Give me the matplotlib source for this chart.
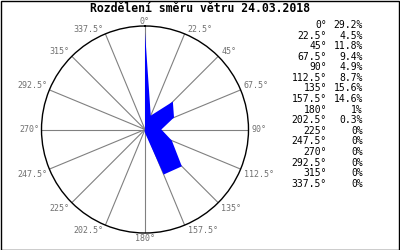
import numpy as np
import matplotlib
matplotlib.use("Agg")
import matplotlib.pyplot as plt

title = "Rozdělení směru větru 24.03.2018"
directions = [0, 22.5, 45, 67.5, 90, 112.5, 135, 157.5, 180, 202.5, 225, 247.5, 270, 292.5, 315, 337.5]
dir_labels = ["0°", "22.5°", "45°", "67.5°", "90°", "112.5°", "135°", "157.5°",
              "180°", "202.5°", "225°", "247.5°", "270°", "292.5°", "315°", "337.5°"]
percent = [29.2, 4.5, 11.8, 9.4, 4.9, 8.7, 15.6, 14.6, 1, 0.3, 0, 0, 0, 0, 0, 0]
percent_labels = ["29.2%", "4.5%", "11.8%", "9.4%", "4.9%", "8.7%", "15.6%", "14.6%",
                  "1%", "0.3%", "0%", "0%", "0%", "0%", "0%", "0%"]
rmax = 31.0

W, H = 400, 250
fig = plt.figure(figsize=(W / 100, H / 100), dpi=100)
fig.patch.set_facecolor("white")

cx, cy, R = 145, 129.5, 103.5
ax = fig.add_axes([(cx - R) / W, (H - cy - R) / H, 2 * R / W, 2 * R / H], projection="polar")
ax.set_theta_zero_location("N")
ax.set_theta_direction(-1)
ax.set_ylim(0, rmax)
ax.grid(False)
ax.set_xticks([])
ax.set_yticks([])
ax.spines["polar"].set_color("black")
ax.spines["polar"].set_linewidth(1.0)
ax.patch.set_alpha(0)

th = np.deg2rad(directions)
for t in th:
    ax.plot([t, t], [0, rmax], color="#808080", lw=0.8, zorder=1)

thc = np.append(th, th[0])
vc = np.append(percent, percent[0])
ax.fill(thc, vc, color="#0000ff", lw=0, zorder=2)

for d, lab in zip(directions, dir_labels):
    t = np.deg2rad(d)
    s, c = np.sin(t), np.cos(t)
    if abs(s) < 1e-6:
        ha = "center"
    elif s > 0:
        ha = "left"
    else:
        ha = "right"
    if abs(c) < 1e-6:
        va = "center"
    elif c > 0:
        va = "bottom"
    else:
        va = "top"
    dx = 3 if ha == "left" else (-2 if ha == "right" else 0)
    dy = 0 if va == "center" else (0 if va == "bottom" else -1)
    ax.annotate(lab, (t, rmax), xytext=(dx, dy), textcoords="offset pixels",
                ha=ha, va=va, fontsize=6, color="#707070",
                family="DejaVu Sans Mono", annotation_clip=False)

fig.text(200 / W, 1 - 9 / H, title, ha="center", va="center", fontsize=8.3,
         fontweight="bold", family="DejaVu Sans Mono", color="black")

y0, step = 25.0, 10.58
for i, (lab, p) in enumerate(zip(dir_labels, percent_labels)):
    y = 1 - (y0 + i * step) / H
    fig.text(327 / W, y, lab, ha="right", va="center", fontsize=7,
             family="DejaVu Sans Mono", color="black")
    fig.text(363 / W, y, p, ha="right", va="center", fontsize=7,
             family="DejaVu Sans Mono", color="black")

border = plt.Rectangle((0.5 / W, 0.5 / H), 1 - 1.5 / W, 1 - 1.5 / H, transform=fig.transFigure,
                       fill=False, edgecolor="black", lw=1.0)
fig.patches.append(border)

fig.savefig("out.png", dpi=100)
